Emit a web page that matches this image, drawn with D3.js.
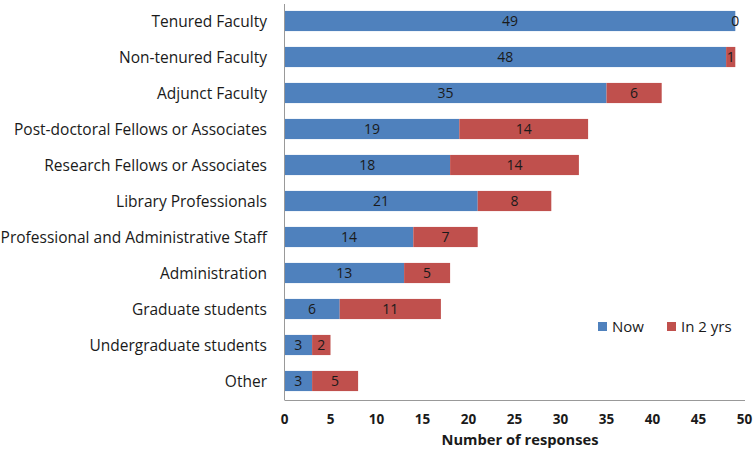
<!DOCTYPE html>
<html><head><meta charset="utf-8">
<script src="https://cdn.jsdelivr.net/npm/d3@7"></script>
<style>body{margin:0;background:#fff}svg{display:block}text{font-family:"Open Sans",sans-serif}</style>
</head><body><svg id="c" width="754" height="450"></svg>
<script>
const categories = ["Tenured Faculty","Non-tenured Faculty","Adjunct Faculty","Post-doctoral Fellows or Associates","Research Fellows or Associates","Library Professionals","Professional and Administrative Staff","Administration","Graduate students","Undergraduate students","Other"];
const nowValues = [49,48,35,19,18,21,14,13,6,3,3];
const in2Values = [0,1,6,14,14,8,7,5,11,2,5];
const seriesNames = ["Now","In 2 yrs"];
const colors = ["#4F81BD","#C0504D"];
const xTicks = [0,5,10,15,20,25,30,35,40,45,50];

const svg = d3.select("#c");
const x = d3.scaleLinear().domain([0,50]).range([284.5,744.5]);
const y = d3.scaleBand().domain(categories).range([3,399]).paddingInner(0.44).paddingOuter(0.22);

const rows = categories.map((c,i)=>({cat:c, vals:[nowValues[i], in2Values[i]]}));
const g = svg.append("g");
rows.forEach(r=>{
  let acc=0;
  r.vals.forEach((v,si)=>{
    const x0=acc, x1=acc+v; acc=x1;
    if(v>0){
      g.append("rect").attr("x",x(x0)).attr("y",y(r.cat)).attr("width",x(x1)-x(x0)).attr("height",y.bandwidth())
        .attr("fill",colors[si]);
    }
    g.append("text").attr("x",(x(x0)+x(x1))/2).attr("y",y(r.cat)+y.bandwidth()/2).attr("dy","0.36em")
      .attr("text-anchor","middle").attr("font-size",14).attr("fill","#1a1a1a").text(v);
  });
});

// axes lines
svg.append("line").attr("x1",284.5).attr("x2",284.5).attr("y1",4).attr("y2",400).attr("stroke","#999");
svg.append("line").attr("x1",284.5).attr("x2",745).attr("y1",400.5).attr("y2",400.5).attr("stroke","#999");

// category labels
svg.selectAll(".cl").data(categories).enter().append("text")
  .attr("x",267).attr("y",d=>y(d)+y.bandwidth()/2).attr("dy","0.36em").attr("text-anchor","end")
  .attr("font-size",15.5).attr("fill","#1a1a1a").text(d=>d);

// x tick labels
svg.selectAll(".xt").data(xTicks).enter().append("text")
  .attr("x",d=>x(d)).attr("y",419).attr("dy","0.36em").attr("text-anchor","middle")
  .attr("font-size",13.5).attr("font-weight","bold").attr("fill","#1a1a1a").text(d=>d);

svg.append("text").attr("x",520).attr("y",440).attr("dy","0.36em").attr("text-anchor","middle")
  .attr("font-size",14.7).attr("font-weight","bold").attr("fill","#1a1a1a").text("Number of responses");

// legend
const legX=[598,667];
seriesNames.forEach((n,i)=>{
  svg.append("rect").attr("x",legX[i]).attr("y",322).attr("width",9).attr("height",9).attr("fill",colors[i]);
  svg.append("text").attr("x",legX[i]+14).attr("y",327).attr("dy","0.36em").attr("font-size",15).attr("fill","#1a1a1a").text(n);
});
</script></body></html>
